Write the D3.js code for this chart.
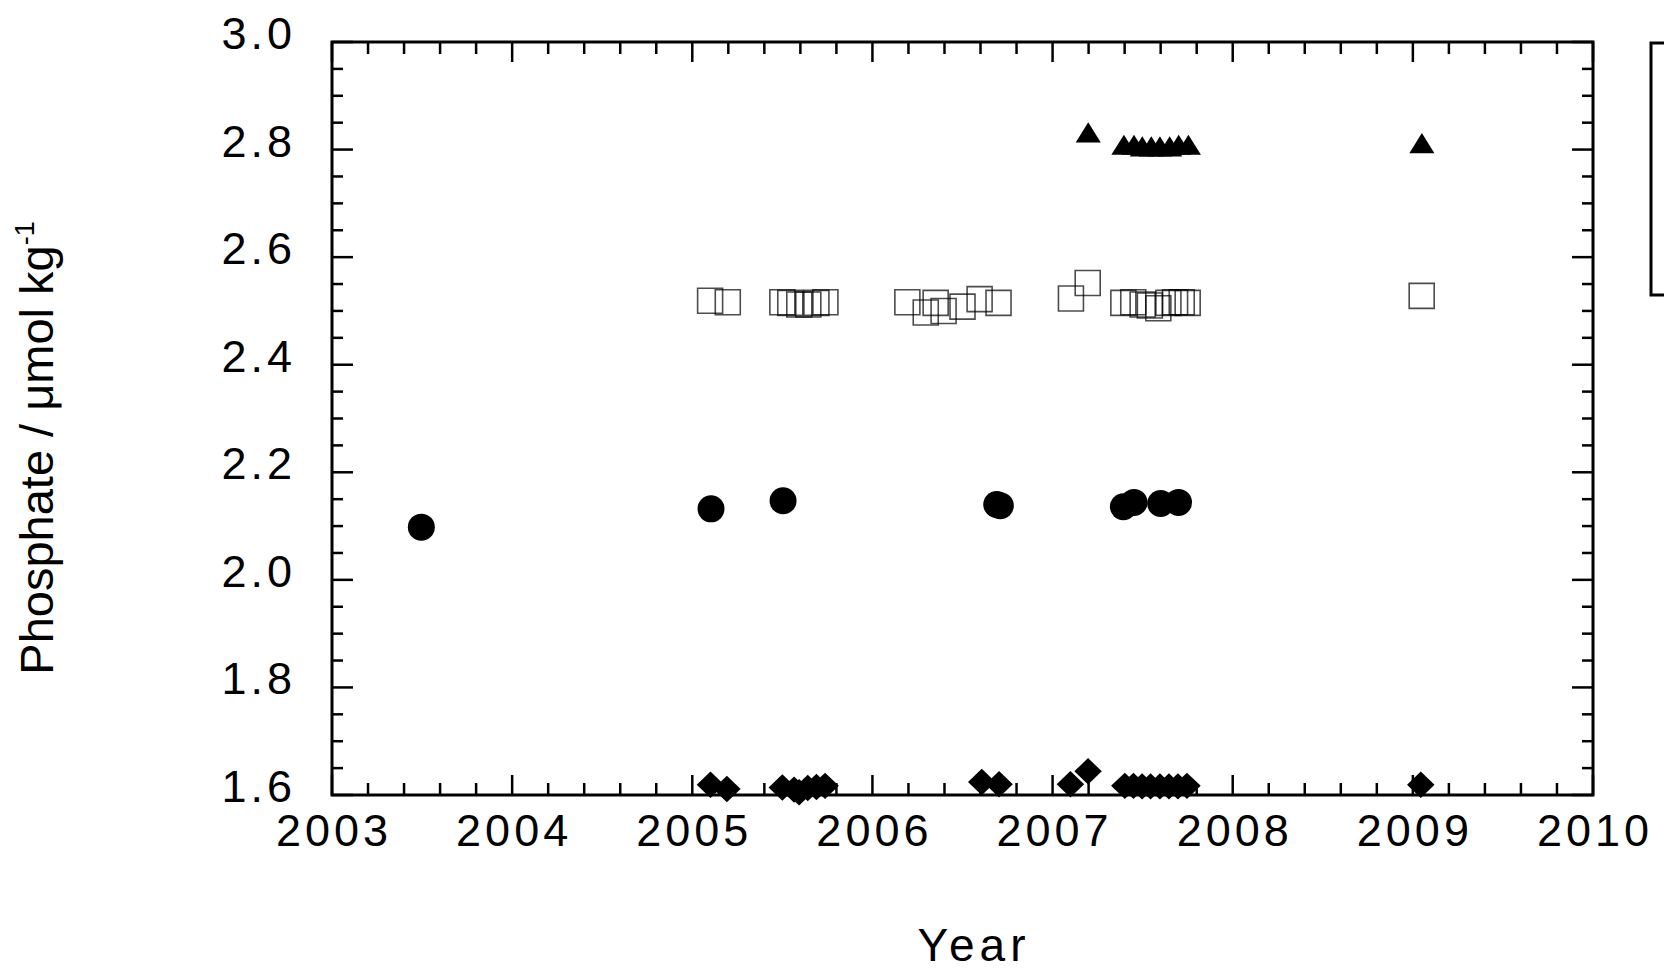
<!DOCTYPE html>
<html>
<head>
<meta charset="utf-8">
<script src="https://cdn.jsdelivr.net/npm/d3@7"></script>
<style>
  body { margin: 0; background: #fff; }
  text { font-family: "Liberation Sans", Arial, sans-serif; fill: #000; }
</style>
</head>
<body>
<svg id="chart"></svg>
<script>
// circles (filled)
const circleYears = [2003.496, 2005.104, 2005.504, 2006.69, 2006.71, 2007.393, 2007.452, 2007.6, 2007.699];
const circleVals = [2.098, 2.132, 2.147, 2.140, 2.138, 2.136, 2.144, 2.142, 2.144];

// triangles (filled)
const triYears = [2007.198, 2007.396, 2007.452, 2007.498, 2007.548, 2007.596, 2007.65, 2007.70, 2007.754, 2009.05];
const triVals = [2.832, 2.809, 2.809, 2.806, 2.806, 2.806, 2.806, 2.809, 2.809, 2.812];

// squares (open)
const squareYears = [2005.099, 2005.197, 2005.50, 2005.544, 2005.594, 2005.644, 2005.689, 2005.739,
    2006.194, 2006.296, 2006.351, 2006.395, 2006.50, 2006.595, 2006.70,
    2007.102, 2007.195, 2007.393, 2007.448, 2007.50, 2007.54, 2007.587, 2007.643, 2007.68, 2007.717, 2007.75,
    2009.049];
const squareVals = [2.519, 2.516, 2.516, 2.515, 2.512, 2.512, 2.515, 2.516,
    2.516, 2.497, 2.515, 2.500, 2.508, 2.522, 2.515,
    2.523, 2.552, 2.515, 2.516, 2.512, 2.510, 2.505, 2.515, 2.516, 2.516, 2.515,
    2.528];

// diamonds (filled)
const diamondYears = [2005.101, 2005.192, 2005.50, 2005.565, 2005.593, 2005.641, 2005.689, 2005.737,
    2006.607, 2006.703, 2007.099, 2007.197,
    2007.401, 2007.449, 2007.497, 2007.544, 2007.596, 2007.646, 2007.696, 2007.746,
    2009.044];
const diamondVals = [1.619, 1.611, 1.614, 1.610, 1.605, 1.613, 1.615, 1.617,
    1.624, 1.620, 1.620, 1.644,
    1.617, 1.617, 1.616, 1.616, 1.616, 1.616, 1.616, 1.617,
    1.619];

const xTicks = [2003, 2004, 2005, 2006, 2007, 2008, 2009, 2010];
const yTicks = [1.6, 1.8, 2.0, 2.2, 2.4, 2.6, 2.8, 3.0];

const W = 1664, H = 970;
const plotL = 332, plotR = 1593, plotT = 42, plotB = 795;

let svg = d3.select("#chart").attr("width", W).attr("height", H);

const x = d3.scaleLinear().domain([2003, 2010]).range([plotL, plotR]);
const y = d3.scaleLinear().domain([1.6, 3.0]).range([plotB, plotT]);

// custom symbol shapes
const triangleShape = {
    draw(ctx, size) {
        const w = Math.sqrt(size) * 1.1, h = w * 0.8;
        ctx.moveTo(0, -h / 2);
        ctx.lineTo(w / 2, h / 2);
        ctx.lineTo(-w / 2, h / 2);
        ctx.closePath();
    }
};
const diamondShape = {
    draw(ctx, size) {
        const r = Math.sqrt(size) / 2;
        ctx.moveTo(0, -r);
        ctx.lineTo(r * 1.04, 0);
        ctx.lineTo(0, r);
        ctx.lineTo(-r * 1.04, 0);
        ctx.closePath();
    }
};

function zip(xs, ys) {
    return xs.map((d, i) => ({ x: d, y: ys[i] }));
}

// ticks: inward on all four sides
const frame = svg.append("g").style("stroke", "#000").style("stroke-width", 2.5);
const xMinor = d3.range(0, 36).map(i => 2003 + i * 0.2);
const yMinor = d3.range(0, 29).map(i => 1.6 + i * 0.05);

xMinor.forEach((d, i) => {
    const len = i % 5 === 0 ? 20 : 12;
    frame.append("line").attr("x1", x(d)).attr("x2", x(d)).attr("y1", plotB).attr("y2", plotB - len);
    frame.append("line").attr("x1", x(d)).attr("x2", x(d)).attr("y1", plotT).attr("y2", plotT + len);
});
yMinor.forEach((d, i) => {
    const len = i % 4 === 0 ? 21 : 11;
    frame.append("line").attr("x1", plotL).attr("x2", plotL + len).attr("y1", y(d)).attr("y2", y(d));
    frame.append("line").attr("x1", plotR).attr("x2", plotR - len).attr("y1", y(d)).attr("y2", y(d));
});

svg.append("rect")
    .attr("x", plotL).attr("y", plotT)
    .attr("width", plotR - plotL).attr("height", plotB - plotT)
    .style("fill", "none").style("stroke", "#000").style("stroke-width", 3);

// tick labels
svg.append("g").selectAll("text").data(xTicks).join("text")
    .attr("x", d => x(d) + 2)
    .attr("y", 846)
    .attr("text-anchor", "middle")
    .attr("letter-spacing", 4)
    .style("font-size", "45px")
    .text(d => d);

svg.append("g").selectAll("text").data(yTicks).join("text")
    .attr("x", 296)
    .attr("y", d => y(d) + 7)
    .attr("text-anchor", "end")
    .attr("letter-spacing", 4)
    .style("font-size", "45px")
    .text(d => d.toFixed(1));

// axis titles
svg.append("text")
    .attr("x", 974).attr("y", 961)
    .attr("text-anchor", "middle")
    .attr("letter-spacing", 5)
    .style("font-size", "46px")
    .text("Year");

const ytitle = svg.append("text")
    .attr("transform", `translate(53,${448}) rotate(-90)`)
    .attr("text-anchor", "middle")
    .style("font-size", "47px");
ytitle.append("tspan").text("Phosphate / μmol kg");
ytitle.append("tspan").attr("dy", -19).style("font-size", "27px").text("-1");

// markers
const pts = svg.append("g");
pts.selectAll(".sq").data(zip(squareYears, squareVals)).join("path")
    .attr("class", "sq")
    .attr("transform", d => `translate(${x(d.x)},${y(d.y)})`)
    .attr("d", d3.symbol().type(d3.symbolSquare).size(625))
    .style("fill", "none").style("stroke", "rgba(0,0,0,0.7)").style("stroke-width", 1.6);

pts.selectAll(".ci").data(zip(circleYears, circleVals)).join("path")
    .attr("class", "ci")
    .attr("transform", d => `translate(${x(d.x)},${y(d.y)})`)
    .attr("d", d3.symbol().type(d3.symbolCircle).size(Math.PI * 13.5 * 13.5))
    .style("fill", "#000");

pts.selectAll(".tr").data(zip(triYears, triVals)).join("path")
    .attr("class", "tr")
    .attr("transform", d => `translate(${x(d.x)},${y(d.y)})`)
    .attr("d", d3.symbol().type(triangleShape).size(520))
    .style("fill", "#000");

pts.selectAll(".di").data(zip(diamondYears, diamondVals)).join("path")
    .attr("class", "di")
    .attr("transform", d => `translate(${x(d.x)},${y(d.y)})`)
    .attr("d", d3.symbol().type(diamondShape).size(700))
    .style("fill", "#000");

// legend box (runs off the right edge)
svg.append("rect")
    .attr("x", 1651).attr("y", 43)
    .attr("width", 60).attr("height", 252)
    .style("fill", "none").style("stroke", "#000").style("stroke-width", 3);
</script>
</body>
</html>
